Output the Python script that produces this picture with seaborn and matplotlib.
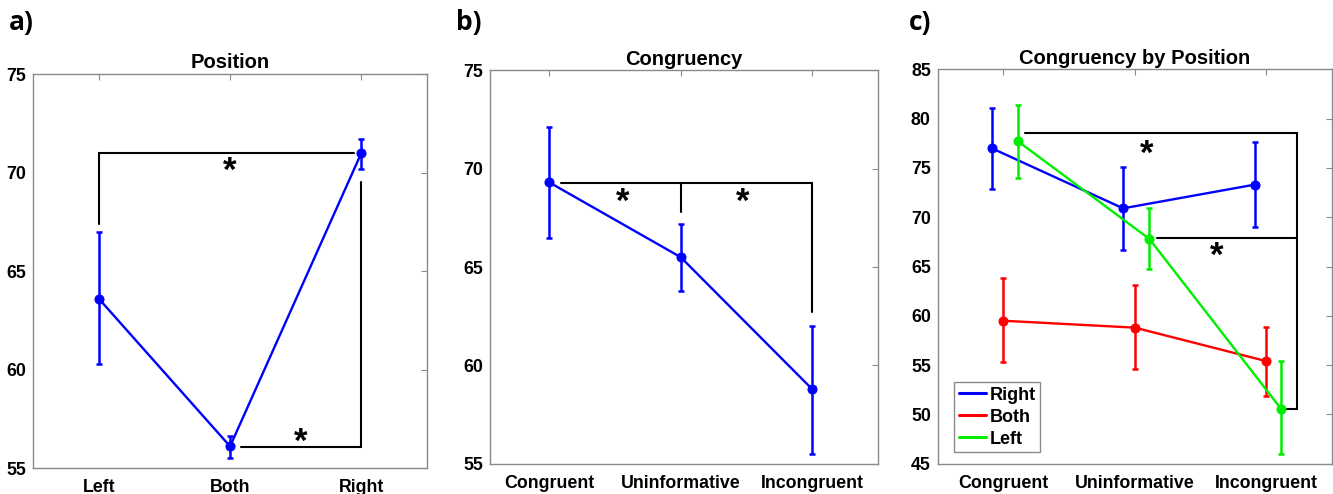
import pandas as pd
import seaborn as sns
import matplotlib.pyplot as plt
from matplotlib.lines import Line2D

# a) position main effect
position_labels = ["Left", "Both", "Right"]
position_mean = [63.6, 56.1, 71.0]
position_low = [60.3, 55.5, 70.2]
position_high = [67.0, 56.6, 71.7]

# b) congruency main effect
congruency_labels = ["Congruent", "Uninformative", "Incongruent"]
congruency_mean = [69.3, 65.5, 58.8]
congruency_low = [66.5, 63.8, 55.5]
congruency_high = [72.1, 67.2, 62.0]

# c) congruency by position
series_names = ["Right", "Both", "Left"]
right_mean = [77.0, 70.9, 73.3]
right_low = [72.9, 66.7, 69.0]
right_high = [81.1, 75.1, 77.6]
both_mean = [59.5, 58.8, 55.4]
both_low = [55.3, 54.6, 51.9]
both_high = [63.8, 63.1, 58.9]
left_mean = [77.7, 67.8, 50.6]
left_low = [74.0, 64.7, 46.0]
left_high = [81.4, 70.9, 55.4]

# significance brackets (x in category units, y in score units)
brackets_a = [[(1, 67.4), (1, 71.0), (2.94, 71.0)],
              [(2.08, 56.05), (3, 56.05), (3, 69.5)]]
stars_a = [(2.0, 70.05), (2.54, 56.3)]
brackets_b = [[(1.09, 69.27), (3, 69.27), (3, 62.7)],
              [(2, 69.27), (2, 67.8)]]
stars_b = [(1.56, 68.3), (2.475, 68.3)]
brackets_c = [[(1.165, 78.55), (3.23, 78.55), (3.23, 50.55), (3.16, 50.55)],
              [(2.17, 67.94), (3.23, 67.94)]]
stars_c = [(2.09, 76.4), (2.62, 66.0)]

sns.set_style("white")
plt.rcParams['font.family'] = ['Liberation Sans', 'DejaVu Sans']
plt.rcParams['font.weight'] = 'bold'
plt.rcParams['text.color'] = 'black'
plt.rcParams['xtick.labelcolor'] = 'black'
plt.rcParams['ytick.labelcolor'] = 'black'

AX_GRAY = "#8a8a8a"
series_colors = {"Right": "#0000ff", "Both": "#ff0000", "Left": "#00ee00"}
series_offsets = {"Right": -0.09, "Both": 0.0, "Left": 0.11}


def style_axes(ax, xlim, ylim, yticks, labels, title):
  ax.set_xlim(*xlim)
  ax.set_ylim(*ylim)
  ax.set_yticks(yticks)
  ax.set_xticks([1, 2, 3])
  ax.set_xticklabels(labels)
  for s in ax.spines.values():
    s.set_color(AX_GRAY)
    s.set_linewidth(1.0)
  ax.tick_params(direction='in', top=True, right=True, length=4, width=0.8,
                 color=AX_GRAY, labelsize=12.8, labelcolor='black')
  ax.tick_params(axis='y', pad=5)
  ax.tick_params(axis='x', pad=8)
  for t in ax.get_xticklabels() + ax.get_yticklabels():
    t.set_fontweight('bold')
  ax.set_title(title, fontsize=14.5, fontweight='bold', pad=4, color='black')
  ax.set_xlabel("")
  ax.set_ylabel("")


def draw_series(ax, xs, mean, low, high, color):
  sns.lineplot(x=xs, y=mean, ax=ax, color=color, linewidth=1.7, marker='o',
               markersize=6.5, markeredgecolor=color, estimator=None, legend=False)
  yerr = [[m - l for m, l in zip(mean, low)], [h - m for m, h in zip(mean, high)]]
  ax.errorbar(xs, mean, yerr=yerr, fmt='none', ecolor=color, elinewidth=1.8,
              capsize=2.5, capthick=1.8)


def draw_brackets(ax, brackets, stars):
  for b in brackets:
    ax.plot([p[0] for p in b], [p[1] for p in b], color='black', lw=1.5,
            solid_joinstyle='miter')
  for x, y in stars:
    ax.text(x, y, "*", ha='center', va='center', fontsize=25, fontweight='bold')


fig = plt.figure(figsize=(13.33, 4.94), dpi=100)

# panel a
ax_a = fig.add_axes([0.0248, 0.0526, 0.2956, 0.7976])
draw_series(ax_a, [1, 2, 3], position_mean, position_low, position_high, "#0000ff")
draw_brackets(ax_a, brackets_a, stars_a)
style_axes(ax_a, (0.5, 3.5), (55, 75), [55, 60, 65, 70, 75], position_labels, "Position")

# panel b
ax_b = fig.add_axes([0.3678, 0.0613, 0.2906, 0.7964])
draw_series(ax_b, [1, 2, 3], congruency_mean, congruency_low, congruency_high, "#0000ff")
draw_brackets(ax_b, brackets_b, stars_b)
style_axes(ax_b, (0.55, 3.5), (55, 75), [55, 60, 65, 70, 75], congruency_labels, "Congruency")

# panel c
ax_c = fig.add_axes([0.7035, 0.0613, 0.2958, 0.7984])
c_data = {"Right": (right_mean, right_low, right_high),
          "Both": (both_mean, both_low, both_high),
          "Left": (left_mean, left_low, left_high)}
for name in series_names:
  m, lo, hi = c_data[name]
  xs = [i + 1 + series_offsets[name] for i in range(len(m))]
  draw_series(ax_c, xs, m, lo, hi, series_colors[name])
draw_brackets(ax_c, brackets_c, stars_c)
style_axes(ax_c, (0.5, 3.5), (45, 85), list(range(45, 90, 5)), congruency_labels,
           "Congruency by Position")
handles = [Line2D([], [], color=series_colors[n], lw=2.2) for n in series_names]
leg = ax_c.legend(handles, series_names, loc='lower left', bbox_to_anchor=(0.042, 0.029),
                  borderaxespad=0, fancybox=False, framealpha=1, edgecolor=AX_GRAY,
                  prop={'weight': 'bold', 'size': 13}, handlelength=1.5,
                  handletextpad=0.2, labelspacing=0.28, borderpad=0.25)
leg.get_frame().set_linewidth(1.0)
for t in leg.get_texts():
  t.set_color('black')

# panel letters
for x, letter in [(0.007, "a)"), (0.342, "b)"), (0.682, "c)")]:
  fig.text(x, 0.955, letter, fontsize=19, fontweight='bold', va='center', ha='left',
           color='black', family=['Open Sans', 'DejaVu Sans'])

fig.savefig("out.png", dpi=100)
